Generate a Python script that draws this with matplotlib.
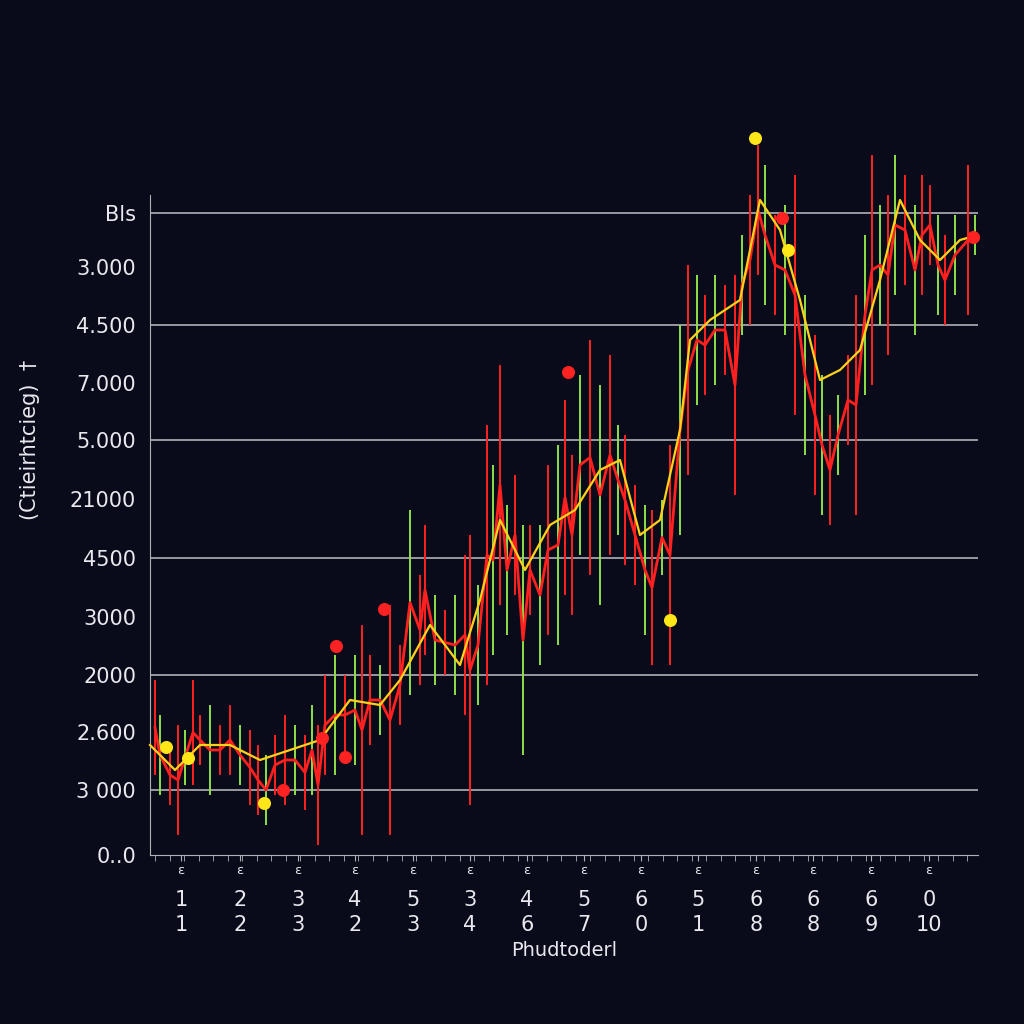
import numpy as np
import matplotlib.pyplot as plt

# heights measured upward from the x axis
spike_x = [155,160,170,178,185,193,200,210,220,230,240,250,258,266,275,285,295,305,312,318,
           325,335,345,355,362,370,380,390,400,410,420,425,435,445,455,465,470,478,487,493,
           500,507,515,523,530,540,548,558,565,572,580,590,600,610,618,625,635,645,652,662,
           670,680,688,697,705,715,725,735,742,750,758,765,775,785,795,805,815,822,830,838,
           848,856,865,872,880,888,895,905,915,922,930,938,945,955,968,975]
spike_lo = [80,60,50,20,70,70,90,60,80,80,70,50,40,30,60,50,60,45,60,10,
            80,80,100,90,20,110,120,20,130,160,170,200,170,180,160,140,50,150,170,200,
            250,220,260,100,240,190,220,210,260,240,300,280,250,300,320,290,270,220,190,280,
            190,320,380,450,460,470,480,360,520,530,580,550,540,520,440,400,360,340,330,380,
            410,340,460,470,530,500,560,570,520,560,590,540,530,560,540,600]
spike_hi = [175,140,110,130,125,175,140,150,130,150,130,125,110,100,120,140,130,120,150,130,
            180,200,180,200,230,200,190,250,210,345,280,330,260,245,260,300,320,270,430,390,
            490,350,380,330,330,330,390,410,455,400,480,515,470,500,430,420,370,350,345,355,
            410,530,590,580,560,580,570,580,620,660,710,690,640,650,680,560,520,480,440,460,
            500,560,620,700,650,660,700,680,650,680,670,640,620,640,690,640]
spike_col = ['r','g','r','r','g','r','r','g','r','r','g','r','r','g','r','r','g','r','g','r',
             'r','g','r','g','r','r','g','r','r','g','r','r','g','r','g','r','r','g','r','g',
             'r','g','r','g','r','g','r','g','r','r','g','r','g','r','g','r','r','g','r','g',
             'r','g','r','g','r','g','r','r','g','r','r','g','r','g','r','g','r','g','r','g',
             'r','r','g','r','g','r','g','r','g','r','r','g','r','g','r','g']

trend_x = [150,175,200,230,260,290,320,350,380,400,430,460,480,500,525,550,575,600,620,640,
           660,680,690,710,740,760,780,800,820,840,860,880,900,920,940,960,978]
trend_y = [110,85,110,110,95,105,115,155,150,175,230,190,255,335,285,330,345,385,395,320,
           335,425,515,535,555,655,625,555,475,485,505,575,655,615,595,615,620]

yellow_x = [166,188,264,670,755,788]
yellow_y = [108,97,52,235,717,605]
red_x = [283,322,336,345,384,568,782,973]
red_y = [65,117,209,98,246,483,637,618]

ytick_pos = [0,65,123,180,238,297,356,415,472,530,588,642]
ytick_lab = ['0..0','3 000','2.600','2000','3000','4500','21000','5.000','7.000','4.500','3.000','Bls']
xtick_pos = [181,240,298,355,413,470,527,584,641,698,756,813,871,929]
xrow1 = ['1','2','3','4','5','3','4','5','6','5','6','6','6','0']
xrow2 = ['1','2','3','2','3','4','6','7','0','1','8','8','9','10']

bg = '#0a0b1a'
fig = plt.figure(figsize=(10.24, 10.24), dpi=100, facecolor=bg)
ax = fig.add_axes([150/1024, 169/1024, 828/1024, 660/1024], facecolor=bg)
ax.set_xlim(150, 978)
ax.set_ylim(0, 660)

for p in [65,180,297,415,530,642]:
    ax.axhline(p, color='#b0b0b8', lw=1.2, zorder=1)

cmap = {'r': '#ff2222', 'g': '#8ee04a'}
for x, lo, hi, c in zip(spike_x, spike_lo, spike_hi, spike_col):
    ax.vlines(x, lo, hi, color=cmap[c], lw=1.4, zorder=2, clip_on=False)
mid = [(a + b) / 2 for a, b in zip(spike_lo, spike_hi)]
ax.plot(spike_x, mid, color='#ff2020', lw=2, zorder=3, clip_on=False)
ax.plot(trend_x, trend_y, color='#ffd21a', lw=1.6, zorder=4, clip_on=False)
ax.scatter(yellow_x, yellow_y, s=70, color='#ffe619', zorder=5, clip_on=False)
ax.scatter(red_x, red_y, s=70, color='#ff2222', zorder=5, clip_on=False)

for s in ['top', 'right']:
    ax.spines[s].set_visible(False)
for s in ['left', 'bottom']:
    ax.spines[s].set_color('#b0b0b8')
ax.set_yticks(ytick_pos)
ax.set_yticklabels(ytick_lab, color='#e8e8ee', fontsize=15)
ax.tick_params(axis='y', length=0, pad=10)
ax.set_xticks(xtick_pos)
ax.set_xticklabels(['ᵋ\n' + a + '\n' + b for a, b in zip(xrow1, xrow2)],
                   color='#e8e8ee', fontsize=15, linespacing=1.3)
ax.set_xticks(np.arange(155, 978, 14.5), minor=True)
ax.tick_params(axis='x', which='both', color='#b0b0b8', length=4)
ax.set_xlabel('Phudtoderl', color='#e8e8ee', fontsize=14, labelpad=4)
fig.text(30/1024, 1 - 440/1024, '(Ctieirhtcieg)  †', color='#e8e8ee', fontsize=15,
         rotation=90, ha='center', va='center')

fig.savefig('out.png', facecolor=bg)
